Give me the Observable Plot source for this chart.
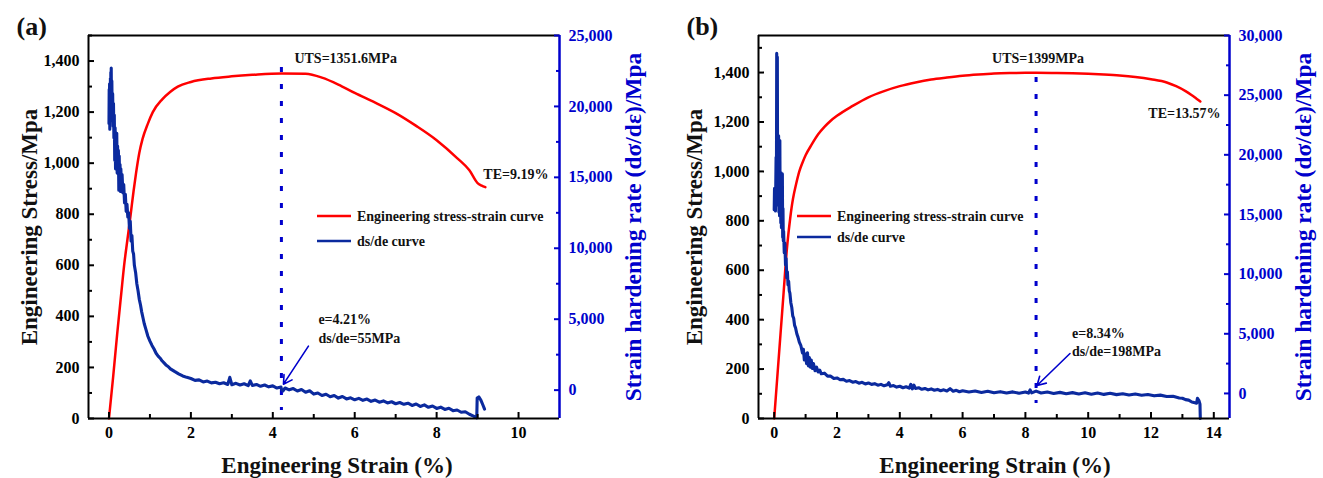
<!DOCTYPE html>
<html><head><meta charset="utf-8">
<script src="https://cdn.jsdelivr.net/npm/d3@7"></script>
<script src="https://cdn.jsdelivr.net/npm/@observablehq/plot@0.6"></script>
<style>
html,body{margin:0;padding:0;background:#fff;}
#wrap{display:flex;width:1323px;height:478px;overflow:hidden;}
#wrap svg{flex:none;}
</style></head><body><div id="wrap"></div>
<script>
// ---------- Panel (a) data ----------
const aStrain = [0,0.1,0.2,0.3,0.37,0.45,0.53,0.6,0.66,0.74,0.82,0.95,1.07,1.3,1.5,1.68,2,2.5,3,3.5,4.21,4.8,5.2,5.6,6,6.5,7,7.5,8,8.5,8.8,9.0,9.1,9.19];
const aStress = [0,160,330,490,600,700,800,890,960,1040,1095,1155,1200,1250,1280,1300,1318,1332,1340,1346,1351.6,1350,1335,1308,1275,1237,1196,1146,1090,1020,972,922,912,906];
const aRate = [
 [0,18800],[0.005,21200],[0.01,19500],[0.015,21600],[0.02,18400],[0.025,20800],[0.03,19200],[0.035,22000],[0.04,20100],[0.045,22400],
 [0.05,19600],[0.055,22700],[0.06,20400],[0.07,21800],[0.08,19000],[0.09,20900],[0.1,18600],[0.11,20200],[0.12,17800],[0.13,19400],
 [0.14,16200],[0.15,18500],[0.16,15600],[0.17,17900],[0.18,16800],[0.19,18100],[0.2,15300],[0.21,17200],[0.22,15900],[0.23,16900],
 [0.24,14100],[0.25,16500],[0.26,14800],[0.27,15900],[0.28,14000],[0.29,15600],[0.3,14700],[0.32,15200],[0.34,13900],[0.36,14500],
 [0.38,13200],[0.4,13800],[0.42,12600],[0.44,13100],[0.46,12200],[0.48,12500],[0.5,11400],[0.52,11900],[0.54,10500],[0.56,10900],
 [0.58,9800],[0.6,9600],[0.62,8800],[0.65,8300],[0.68,7500],[0.71,7000],[0.74,6400],[0.77,6000],[0.8,5500],[0.83,5100],
 [0.86,4700],[0.9,4300],[0.95,3800],[1.0,3450],[1.05,3150],[1.1,2900],[1.15,2600],[1.2,2400],[1.25,2250],[1.3,2050],
 [1.35,1900],[1.4,1750],[1.45,1650],[1.5,1500],[1.6,1320],[1.7,1150],[1.8,1000],[1.9,900],[2.0,820],[2.1,690],
 [2.2,720],[2.3,580],[2.4,640],[2.5,510],[2.6,560],[2.7,450],[2.8,520],[2.9,400],[2.95,900],[3.0,380],
 [3.1,480],[3.2,360],[3.3,450],[3.4,320],[3.45,650],[3.5,330],[3.6,400],[3.7,270],[3.8,360],[3.9,230],
 [4.0,300],[4.1,150],[4.2,220],[4.21,55],[4.25,-50],[4.3,150],[4.4,20],[4.5,110],[4.6,-60],[4.7,40],
 [4.8,-150],[4.9,-40],[5.0,-280],[5.1,-200],[5.2,-380],[5.3,-290],[5.4,-470],[5.5,-380],[5.6,-560],[5.7,-450],
 [5.8,-620],[5.9,-540],[6.0,-680],[6.1,-580],[6.2,-720],[6.3,-630],[6.4,-790],[6.5,-700],[6.6,-850],[6.7,-760],
 [6.8,-900],[6.9,-820],[7.0,-960],[7.1,-870],[7.2,-1000],[7.3,-920],[7.4,-1080],[7.5,-980],[7.6,-1150],[7.7,-1040],
 [7.8,-1210],[7.9,-1120],[8.0,-1290],[8.1,-1200],[8.2,-1360],[8.3,-1280],[8.4,-1450],[8.5,-1400],[8.6,-1560],[8.7,-1520],
 [8.8,-1700],[8.9,-1830],[8.98,-1950],[8.99,-560],[9.03,-480],[9.08,-700],[9.13,-1050],[9.17,-1340]
];
const aXTicks = [0,2,4,6,8,10], aXMinor = [1,3,5,7,9];
const aYTicks = [0,200,400,600,800,1000,1200,1400], aYMinor = [100,300,500,700,900,1100,1300,1500];
const aRTicks = [0,5000,10000,15000,20000,25000], aRMinor = [2500,7500,12500,17500,22500];
const aUTS = [4.21, 1351.6], aTE = [9.19, 906], aPoint = [4.21, 55], aArrowTail = [4.87, 3100], aArrowHead = [4.26, 420];
const aTexts = {panel: "(a)", uts: "UTS=1351.6MPa", te: "TE=9.19%", e: "e=4.21%", r: "ds/de=55MPa"};

// ---------- Panel (b) data ----------
const bStrain = [0,0.1,0.2,0.3,0.4,0.45,0.5,0.55,0.6,0.7,0.8,0.9,1.0,1.2,1.4,1.6,1.8,2.0,2.5,3.0,3.5,4.0,4.5,5.0,5.5,6.0,6.5,7.0,7.5,8.0,8.34,9.0,9.5,10.0,10.5,11.0,11.5,12.0,12.5,12.8,13.1,13.3,13.45,13.57];
const bStress = [0,170,340,510,680,745,800,850,890,950,1000,1035,1065,1110,1150,1180,1205,1225,1265,1300,1325,1345,1360,1372,1380,1387,1392,1396,1398,1399,1399,1398,1397,1395,1392,1388,1382,1373,1360,1345,1325,1308,1294,1283];
const bRate = [
 [0,15400],[0.01,17200],[0.02,15600],[0.03,16900],[0.04,15300],[0.05,17500],[0.06,19800],[0.07,16400],[0.08,28500],[0.09,17000],
 [0.1,28200],[0.11,15800],[0.12,19500],[0.13,16800],[0.14,21600],[0.15,15200],[0.16,19700],[0.17,14900],[0.18,21200],[0.19,15100],
 [0.2,17400],[0.21,14300],[0.22,18500],[0.23,13900],[0.24,16200],[0.25,14600],[0.26,18400],[0.27,13100],[0.28,15500],[0.29,12800],
 [0.3,13600],[0.32,11800],[0.34,12600],[0.36,10800],[0.38,11300],[0.4,9700],[0.42,10200],[0.44,9100],[0.46,9400],[0.48,8600],
 [0.5,8400],[0.53,7600],[0.56,7200],[0.59,6500],[0.62,6300],[0.65,5700],[0.68,5500],[0.72,5000],[0.76,4700],[0.8,4300],
 [0.85,4000],[0.9,3400],[0.93,3700],[0.96,2800],[1.0,3300],[1.03,2500],[1.06,3400],[1.09,2300],[1.12,3000],[1.15,2200],
 [1.18,2800],[1.21,2100],[1.25,2500],[1.3,1900],[1.35,2200],[1.4,1800],[1.45,1950],[1.5,1650],[1.6,1700],[1.7,1450],
 [1.8,1450],[1.9,1250],[2.0,1300],[2.1,1150],[2.2,1180],[2.3,1020],[2.4,1080],[2.5,940],[2.6,1000],[2.7,860],
 [2.8,930],[2.9,800],[3.0,880],[3.1,760],[3.2,820],[3.3,690],[3.4,760],[3.5,640],[3.6,720],[3.65,900],
 [3.7,600],[3.8,660],[3.9,530],[4.0,600],[4.1,480],[4.2,560],[4.3,440],[4.35,760],[4.4,380],[4.45,700],
 [4.5,420],[4.6,480],[4.7,350],[4.8,420],[4.9,300],[5.0,380],[5.1,270],[5.2,340],[5.3,230],[5.4,300],
 [5.5,200],[5.6,400],[5.7,180],[5.8,260],[5.9,140],[6.0,220],[6.2,120],[6.4,200],[6.6,80],[6.8,180],
 [7.0,60],[7.2,150],[7.4,40],[7.6,130],[7.8,20],[8.0,120],[8.1,30],[8.15,300],[8.2,50],[8.34,198],
 [8.5,40],[8.7,120],[8.9,0],[9.1,90],[9.3,-20],[9.5,70],[9.7,-40],[9.9,50],[10.1,-60],[10.3,30],
 [10.5,-80],[10.7,10],[10.9,-100],[11.1,-20],[11.3,-130],[11.5,-50],[11.7,-150],[11.9,-90],[12.1,-200],[12.3,-140],
 [12.5,-250],[12.7,-230],[12.9,-380],[13.0,-400],[13.1,-520],[13.2,-560],[13.3,-720],[13.4,-780],[13.45,-820],[13.48,-400],
 [13.53,-620],[13.56,-900],[13.57,-2100]
];
const bXTicks = [0,2,4,6,8,10,12,14], bXMinor = [1,3,5,7,9,11,13];
const bYTicks = [0,200,400,600,800,1000,1200,1400], bYMinor = [100,300,500,700,900,1100,1300,1500];
const bRTicks = [0,5000,10000,15000,20000,25000,30000], bRMinor = [2500,7500,12500,17500,22500,27500];
const bUTS = [8.34, 1399], bTE = [13.57, 1283], bPoint = [8.34, 198], bArrowTail = [9.42, 3350], bArrowHead = [8.37, 670];
const bTexts = {panel: "(b)", uts: "UTS=1399MPa", te: "TE=13.57%", e: "e=8.34%", r: "ds/de=198MPa"};

const legendLabels = ["Engineering stress-strain curve", "ds/de curve"];
const xTitle = "Engineering Strain (%)";
const yTitle = "Engineering Stress/Mpa";
const rTitle = "Strain hardening rate (dσ/dε)/Mpa";

const RED = "#ff0000", BLUE_AX = "#0000cc", BLUE_LINE = "#0b2a9e";
const FONT = "'Liberation Serif', 'Times New Roman', serif";
const fmt = d3.format(",");

function panel(c) {
  const [l0, l1] = c.yDomain, [r0, r1] = c.rDomain;
  const toL = v => l0 + (v - r0) / (r1 - r0) * (l1 - l0);
  const toR = y => r0 + (y - l0) / (l1 - l0) * (r1 - r0);
  const stress = c.strain.map((x, i) => ({x, y: c.stress[i]}));
  const rate = c.rate.map(([x, v]) => ({x, y: toL(v)}));
  const T = c.texts;
  const txt = (x, y, t, o) => Plot.text([{x, y, t}], {x: "x", y: "y", text: "t", fontSize: 14, fontWeight: "bold", fill: "#111", lineAnchor: "bottom", textAnchor: "start", ...o});
  const plot = Plot.plot({
    width: c.width, height: 478,
    marginLeft: c.ml, marginRight: c.mr, marginTop: 35, marginBottom: 60,
    x: {domain: c.xDomain, label: null},
    y: {domain: c.yDomain, label: null},
    style: {fontFamily: FONT, fontWeight: "bold", fontSize: "16px", background: "white", overflow: "visible"},
    marks: [
      Plot.ruleX([c.uts[0]], {stroke: BLUE_AX, strokeWidth: 3, strokeDasharray: "5,12", insetTop: c.dotTop, insetBottom: c.dotBottom}),
      Plot.line(stress, {x: "x", y: "y", stroke: RED, strokeWidth: 2.5, curve: "monotone-x"}),
      Plot.line(rate, {x: "x", y: "y", stroke: BLUE_LINE, strokeWidth: 3.1}),
      Plot.arrow([{x1: c.tail[0], y1: toL(c.tail[1]), x2: c.head[0], y2: toL(c.head[1])}], {x1: "x1", y1: "y1", x2: "x2", y2: "y2", stroke: BLUE_AX, strokeWidth: 1.6, headLength: 9}),
      // frame
      Plot.ruleY([c.yDomain[0]], {stroke: "black", strokeWidth: 2}),
      Plot.ruleY([c.yDomain[1]], {stroke: "black", strokeWidth: 2}),
      Plot.ruleX([c.xDomain[0]], {stroke: "black", strokeWidth: 2}),
      Plot.ruleX([c.xDomain[1]], {stroke: BLUE_AX, strokeWidth: 2.5}),
      // axes
      Plot.axisX({ticks: c.xTicks, tickSize: -6, tickPadding: 14, tickFormat: fmt, strokeWidth: 2, label: null, fontSize: 16}),
      Plot.axisX({ticks: c.xMinor, tickSize: -4, tickFormat: () => "", strokeWidth: 2, label: null}),
      Plot.axisY({ticks: c.yTicks, tickSize: -6, tickPadding: 15, tickFormat: fmt, strokeWidth: 2, label: null, fontSize: 16}),
      Plot.axisY({ticks: c.yMinor, tickSize: -4, tickFormat: () => "", strokeWidth: 2, label: null}),
      Plot.axisY({ticks: c.rTicks.map(toL), anchor: "right", tickSize: -6, tickPadding: 15, tickFormat: d => fmt(Math.round(toR(d))), color: BLUE_AX, strokeWidth: 2, label: null, fontSize: 16}),
      Plot.axisY({ticks: c.rMinor.map(toL), anchor: "right", tickSize: -4, tickFormat: () => "", color: BLUE_AX, strokeWidth: 2, label: null}),
      // annotations
      txt(c.uts[0], c.uts[1], T.uts, c.utsOpt),
      txt(c.te[0], c.te[1], T.te, c.teOpt),
      txt(c.point[0], toL(c.point[1]), T.e, {dx: c.eDx, dy: c.eDy1}),
      txt(c.point[0], toL(c.point[1]), T.r, {dx: c.eDx, dy: c.eDy2}),
      // titles
      Plot.text([xTitle], {frameAnchor: "bottom", dx: c.xTitleDx, dy: 54, textAnchor: "middle", lineAnchor: "bottom", fontSize: 23, fontWeight: "bold", fill: "#111"}),
      Plot.text([yTitle], {frameAnchor: "left", dx: c.yTitleDx, rotate: -90, textAnchor: "middle", lineAnchor: "middle", fontSize: 23, fontWeight: "bold", fill: "#111"}),
      Plot.text([rTitle], {frameAnchor: "right", dx: c.rTitleDx, rotate: -90, textAnchor: "middle", lineAnchor: "middle", fontSize: 23.5, fontWeight: "bold", fill: BLUE_AX}),
      Plot.text([T.panel], {frameAnchor: "top-left", dx: c.panelDx, dy: -1, lineAnchor: "bottom", textAnchor: "start", fontSize: 26, fontWeight: "bold", fill: "#111"})
    ]
  });
  // legend
  const g = d3.select(plot).append("g").attr("font-family", FONT).attr("font-weight", "bold").attr("font-size", 14).attr("fill", "#111").attr("text-anchor", "start");
  [RED, BLUE_LINE].forEach((col, i) => {
    const y = c.legY + i * c.legGap;
    g.append("line").attr("x1", c.legX).attr("x2", c.legX + 34).attr("y1", y).attr("y2", y).attr("stroke", col).attr("stroke-width", 2.6);
    g.append("text").attr("x", c.legX + 40).attr("y", y).attr("dy", "0.33em").attr("text-anchor", "start").text(legendLabels[i]);
  });
  return plot;
}

const wrap = document.getElementById("wrap");
wrap.appendChild(panel({
  width: 661, ml: 88, mr: 102,
  xDomain: [-0.5, 11], yDomain: [0, 1500], rDomain: [-2000, 25000],
  strain: aStrain, stress: aStress, rate: aRate,
  xTicks: aXTicks, xMinor: aXMinor, yTicks: aYTicks, yMinor: aYMinor, rTicks: aRTicks, rMinor: aRMinor,
  uts: aUTS, te: aTE, point: aPoint, tail: aArrowTail, head: aArrowHead, texts: aTexts,
  dotTop: 32, dotBottom: 8,
  utsOpt: {dx: 13, dy: -10}, teOpt: {dx: -2, dy: -8},
  eDx: 37, eDy1: -65, eDy2: -46,
  xTitleDx: 13, yTitleDx: -59, rTitleDx: 74, panelDx: -72,
  legX: 317, legY: 216, legGap: 25
}));
wrap.appendChild(panel({
  width: 662, ml: 97, mr: 94,
  xDomain: [-0.5, 14.5], yDomain: [0, 1550], rDomain: [-2100, 30000],
  strain: bStrain, stress: bStress, rate: bRate,
  xTicks: bXTicks, xMinor: bXMinor, yTicks: bYTicks, yMinor: bYMinor, rTicks: bRTicks, rMinor: bRMinor,
  uts: bUTS, te: bTE, point: bPoint, tail: bArrowTail, head: bArrowHead, texts: bTexts,
  dotTop: 42, dotBottom: 15,
  utsOpt: {dx: 2, dy: -10, textAnchor: "middle"}, teOpt: {dx: -52, dy: 17},
  eDx: 36, eDy1: -53, eDy2: -35,
  xTitleDx: 1, yTitleDx: -64, rTitleDx: 74, panelDx: -72,
  legX: 136, legY: 216, legGap: 21
}));
</script></body></html>
